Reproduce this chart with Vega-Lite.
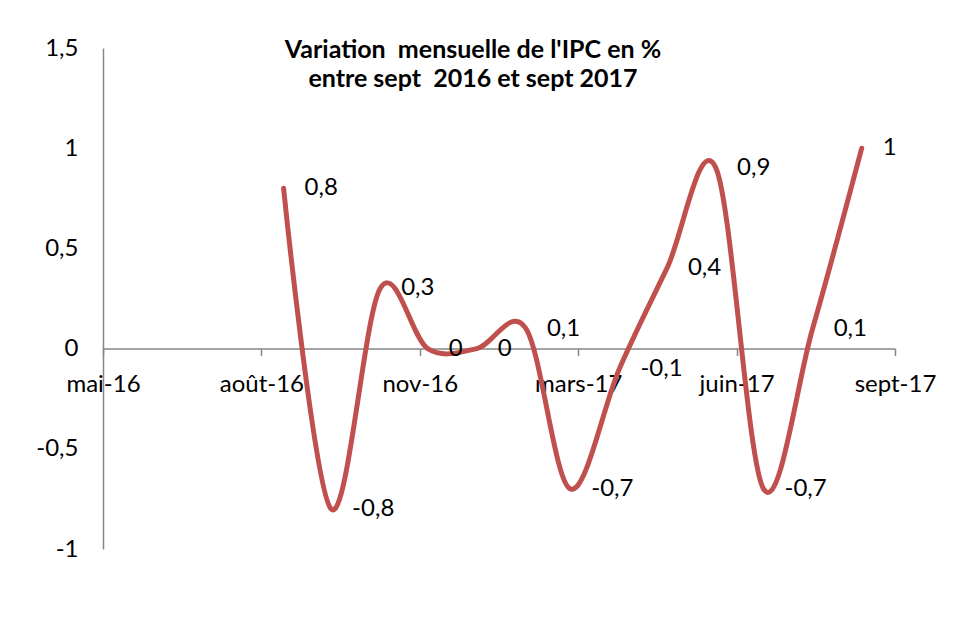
{
  "$schema": "https://vega.github.io/schema/vega-lite/v6.json",
  "width": 792,
  "height": 501,
  "autosize": {"type": "none"},
  "padding": {"left": 103, "top": 48, "right": 60, "bottom": 73},
  "background": "white",
  "config": {
    "view": {"stroke": null},
    "locale": {"number": {"decimal": ",", "thousands": " ", "grouping": [3], "currency": ["", " €"], "minus": "-"}},
    "font": "Lato"
  },
  "title": {
    "text": ["Variation \u00a0mensuelle de l'IPC en %", "entre sept \u00a02016 et sept 2017"],
    "font": "Lato",
    "fontSize": 25,
    "fontWeight": "bold",
    "color": "black",
    "anchor": "middle",
    "dx": -26,
    "offset": -56,
    "lineHeight": 28.7
  },
  "data": {
    "values": [
      {"mois": "2016-09-01", "v": 0.8},
      {"mois": "2016-10-01", "v": -0.8},
      {"mois": "2016-11-01", "v": 0.3},
      {"mois": "2016-12-01", "v": 0},
      {"mois": "2017-01-01", "v": 0},
      {"mois": "2017-02-01", "v": 0.1},
      {"mois": "2017-03-01", "v": -0.7},
      {"mois": "2017-04-01", "v": -0.1},
      {"mois": "2017-05-01", "v": 0.4},
      {"mois": "2017-06-01", "v": 0.9},
      {"mois": "2017-07-01", "v": -0.7},
      {"mois": "2017-08-01", "v": 0.1},
      {"mois": "2017-09-01", "v": 1}
    ]
  },
  "encoding": {
    "x": {
      "field": "mois",
      "type": "temporal",
      "scale": {"type": "utc", "domain": [{"year": 2016, "month": 5, "date": 10, "utc": true}, {"year": 2017, "month": 9, "date": 22, "utc": true}]},
      "axis": {
        "values": [
          {"year": 2016, "month": 5, "date": 10, "utc": true},
          {"year": 2016, "month": 8, "date": 18, "utc": true},
          {"year": 2016, "month": 11, "date": 26, "utc": true},
          {"year": 2017, "month": 3, "date": 6, "utc": true},
          {"year": 2017, "month": 6, "date": 14, "utc": true},
          {"year": 2017, "month": 9, "date": 22, "utc": true}
        ],
        "labelExpr": "['janv','févr','mars','avr','mai','juin','juil','août','sept','oct','nov','déc'][utcmonth(datum.value)] + '-' + utcFormat(datum.value, '%y')",
        "orient": "bottom",
        "offset": -200.4,
        "domainColor": "#868686",
        "domainWidth": 1.5,
        "tickColor": "#868686",
        "tickWidth": 1.5,
        "tickSize": 7,
        "labelFont": "Lato",
        "labelFontSize": 24,
        "labelColor": "black",
        "labelPadding": 17,
        "labelFlush": false,
        "labelOverlap": false,
        "grid": false,
        "title": null
      }
    },
    "y": {
      "field": "v",
      "type": "quantitative",
      "scale": {"domain": [-1, 1.5], "nice": false, "zero": false},
      "axis": {
        "values": [-1, -0.5, 0, 0.5, 1, 1.5],
        "labelExpr": "replace(toString(datum.value), '.', ',')",
        "domainColor": "#868686",
        "domainWidth": 1.5,
        "ticks": false,
        "tickSize": 0,
        "labelPadding": 25,
        "labelFont": "Lato",
        "labelFontSize": 24,
        "labelColor": "black",
        "grid": false,
        "title": null
      }
    }
  },
  "layer": [
    {
      "mark": {"type": "line", "interpolate": "cardinal", "tension": 0, "color": "#C0504D", "strokeWidth": 5, "strokeCap": "round", "strokeJoin": "round", "clip": false}
    },
    {
      "mark": {"type": "text", "align": "left", "baseline": "middle", "dx": 21, "fontSize": 24, "font": "Lato", "color": "black"},
      "encoding": {"text": {"field": "v", "type": "quantitative", "format": "~g"}}
    }
  ]
}
